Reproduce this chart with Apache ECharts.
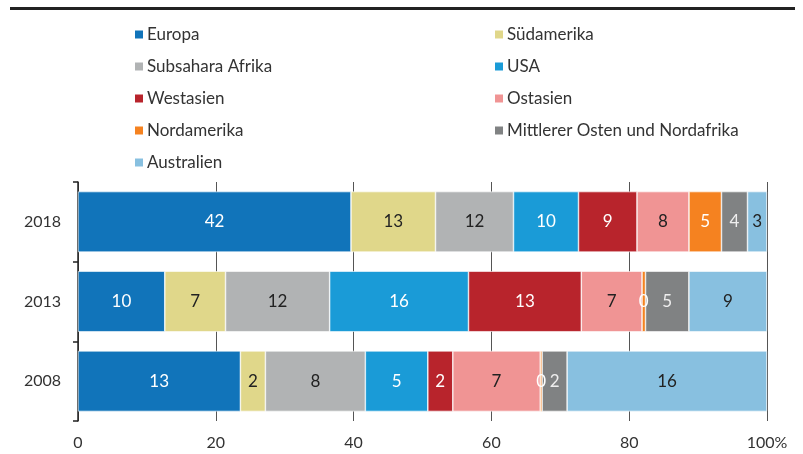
<!DOCTYPE html>
<html>
<head>
<meta charset="utf-8">
<script src="https://cdn.jsdelivr.net/npm/echarts@6/dist/echarts.min.js"></script>
<style>
  html, body { margin: 0; padding: 0; background: #fff; }
  #main { width: 803px; height: 454px; }
</style>
</head>
<body>
<div id="main"></div>
<script>
// Jahre (von unten nach oben)
const years = ['2008', '2013', '2018'];

// Anzahl je Region und Jahr (2008, 2013, 2018)
const regions = ['Europa', 'Südamerika', 'Subsahara Afrika', 'USA', 'Westasien',
  'Ostasien', 'Nordamerika', 'Mittlerer Osten und Nordafrika', 'Australien'];
const europa = [13, 10, 42];
const suedamerika = [2, 7, 13];
const subsahara = [8, 12, 12];
const usa = [5, 16, 10];
const westasien = [2, 13, 9];
const ostasien = [7, 7, 8];
const nordamerika = [0.15, 0.4, 5];
const mittlererOsten = [2, 5, 4];
const australien = [16, 9, 3];

const xTicks = [0, 20, 40, 60, 80, 100];

const counts = [europa, suedamerika, subsahara, usa, westasien, ostasien, nordamerika, mittlererOsten, australien];
const colors = ['#1174ba', '#e0d78a', '#b1b3b4', '#1a9bd7', '#b8242c', '#f09494', '#f58220', '#808283', '#88c0e0'];
const labelColors = ['#fff', '#222', '#222', '#fff', '#fff', '#222', '#fff', '#eee', '#222'];

// Summen je Jahr -> Anteile in %
const totals = years.map((y, i) => counts.reduce((s, arr) => s + arr[i], 0));

const font = 'Lato';

const series = regions.map((name, k) => ({
  name: name,
  type: 'bar',
  stack: 'total',
  barCategoryGap: '24%',
  data: counts[k].map((v, i) => ({ value: v / totals[i] * 100, count: v })),
  itemStyle: { color: colors[k], borderColor: '#fff', borderWidth: 0.6 },
  label: {
    show: true,
    position: 'inside',
    color: labelColors[k],
    fontSize: 17,
    fontFamily: font,
    formatter: p => Math.round(p.data.count)
  },
  emphasis: { disabled: true }
}));

const leftNames = regions.filter((r, i) => i % 2 === 0);
const rightNames = regions.filter((r, i) => i % 2 === 1);
const legendBase = {
  orient: 'vertical',
  top: 21,
  icon: 'rect',
  itemWidth: 10,
  itemHeight: 10,
  itemGap: 15,
  textStyle: { fontSize: 17, fontFamily: font, color: '#333', lineHeight: 16, padding: [0, 0, 0, -2] },
  selectedMode: false
};

let chart = echarts.init(document.getElementById('main'));
chart.setOption({
  animation: false,
  textStyle: { fontFamily: font },
  graphic: [{
    type: 'rect',
    shape: { x: 10, y: 7, width: 785, height: 3 },
    style: { fill: '#222' }
  }],
  legend: [
    Object.assign({ left: 128, data: leftNames }, legendBase),
    Object.assign({ left: 488, data: rightNames }, legendBase)
  ],
  grid: { left: 78, right: 36, top: 182, bottom: 33 },
  xAxis: {
    type: 'value',
    min: 0,
    max: 100,
    interval: 20,
    axisLine: { show: false },
    axisTick: { show: false },
    splitLine: { show: true, lineStyle: { color: '#555', width: 1 } },
    axisLabel: {
      fontSize: 16,
      color: '#333',
      margin: 14,
      formatter: v => xTicks.indexOf(v) === xTicks.length - 1 ? v + '%' : v
    }
  },
  yAxis: {
    type: 'category',
    data: years,
    axisLine: { show: true, lineStyle: { color: '#222', width: 1.5 } },
    axisTick: { show: true, length: 5, lineStyle: { color: '#222', width: 1.5 } },
    axisLabel: { fontSize: 16, color: '#333', margin: 17 }
  },
  series: series
});
</script>
</body>
</html>
